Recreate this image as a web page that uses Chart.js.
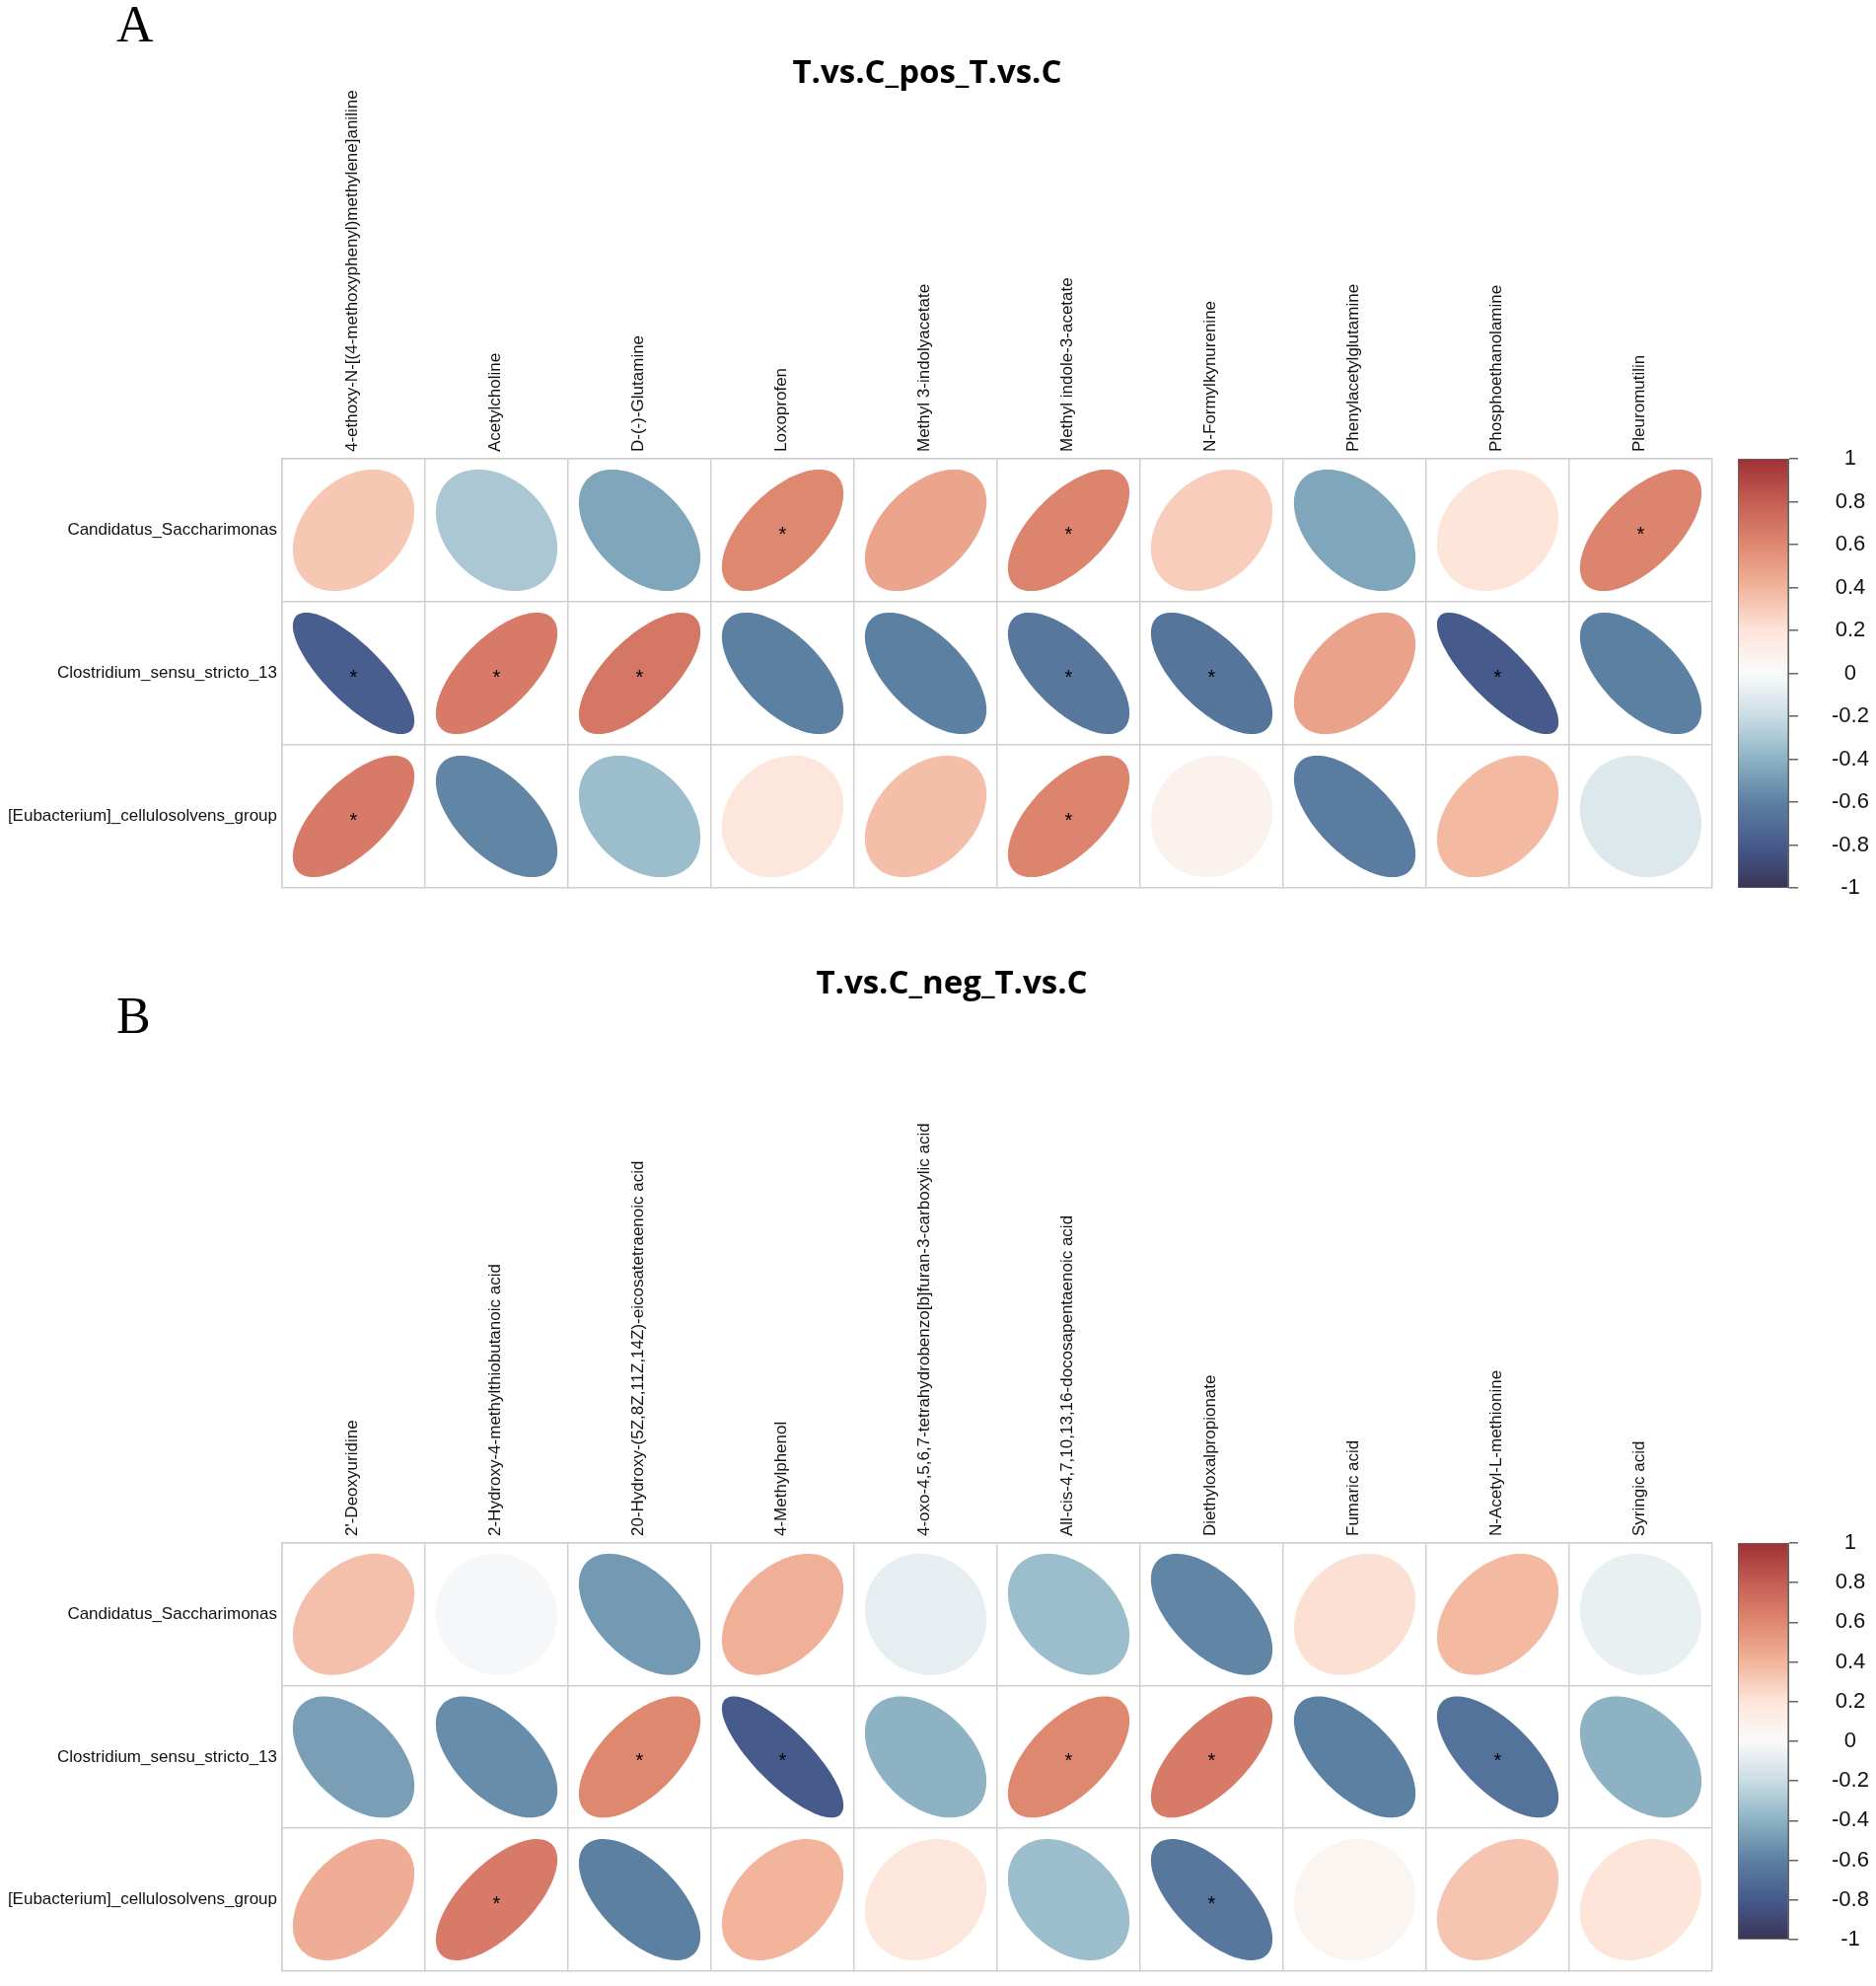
<!DOCTYPE html>
<html>
<head>
<meta charset="utf-8">
<script src="https://cdn.jsdelivr.net/npm/chart.js@4.4.1/dist/chart.umd.min.js"></script>
<style>
  body { margin: 0; background: #fff; }
  #wrap { position: relative; width: 1902px; height: 2013px; }
  canvas { position: absolute; }
</style>
</head>
<body>
<div id="wrap">
  <canvas id="posMatrix" width="1902" height="950" style="left:0;top:0"></canvas>
  <canvas id="posBar" width="162" height="950" style="left:1740px;top:0"></canvas>
  <canvas id="negMatrix" width="1902" height="1063" style="left:0;top:950px"></canvas>
  <canvas id="negBar" width="162" height="1063" style="left:1740px;top:950px"></canvas>
</div>
<script>
/* filas (taxones), comunes a los dos paneles */
const taxa = ["Candidatus_Saccharimonas", "Clostridium_sensu_stricto_13", "[Eubacterium]_cellulosolvens_group"];

/* Panel A: metabolitos modo positivo */
const posMetabolites = [
  "4-ethoxy-N-[(4-methoxyphenyl)methylene]aniline", "Acetylcholine", "D-(-)-Glutamine", "Loxoprofen",
  "Methyl 3-indolyacetate", "Methyl indole-3-acetate", "N-Formylkynurenine", "Phenylacetylglutamine",
  "Phosphoethanolamine", "Pleuromutilin"
];
const posCorr = [
  [0.32, -0.30, -0.45, 0.60, 0.47, 0.62, 0.30, -0.45, 0.20, 0.62],
  [-0.78, 0.66, 0.68, -0.60, -0.60, -0.65, -0.66, 0.48, -0.80, -0.60],
  [0.66, -0.58, -0.35, 0.18, 0.36, 0.62, 0.08, -0.62, 0.38, -0.12]
];
const posSig = [
  [0, 0, 0, 1, 0, 1, 0, 0, 0, 1],
  [1, 1, 1, 0, 0, 1, 1, 0, 1, 0],
  [1, 0, 0, 0, 0, 1, 0, 0, 0, 0]
];

/* Panel B: metabolitos modo negativo */
const negMetabolites = [
  "2'-Deoxyuridine", "2-Hydroxy-4-methylthiobutanoic acid", "20-Hydroxy-(5Z,8Z,11Z,14Z)-eicosatetraenoic acid",
  "4-Methylphenol", "4-oxo-4,5,6,7-tetrahydrobenzo[b]furan-3-carboxylic acid",
  "All-cis-4,7,10,13,16-docosapentaenoic acid", "Diethyloxalpropionate", "Fumaric acid",
  "N-Acetyl-L-methionine", "Syringic acid"
];
const negCorr = [
  [0.35, -0.02, -0.50, 0.42, -0.08, -0.35, -0.58, 0.22, 0.38, -0.07],
  [-0.48, -0.55, 0.60, -0.80, -0.40, 0.60, 0.66, -0.60, -0.67, -0.40],
  [0.43, 0.66, -0.60, 0.40, 0.18, -0.35, -0.65, 0.05, 0.33, 0.20]
];
const negSig = [
  [0, 0, 0, 0, 0, 0, 0, 0, 0, 0],
  [0, 0, 1, 1, 0, 1, 1, 0, 1, 0],
  [0, 1, 0, 0, 0, 0, 1, 0, 0, 0]
];

/* etiquetas de la barra de color */
const barTicks = [1, 0.8, 0.6, 0.4, 0.2, 0, -0.2, -0.4, -0.6, -0.8, -1];

// colores de la escala, de -1 a 1 cada 0.2
const paletteStops = [
  [58, 52, 86], [70, 90, 140], [92, 128, 162], [140, 178, 196], [202, 220, 228],
  [250, 250, 250], [253, 229, 218], [242, 180, 155], [223, 136, 112], [196, 94, 84], [158, 48, 53]
];
const gridColor = "#cfcfcf";
const labelFont = { family: "Liberation Sans", size: 17 };

function corrColor(v) {
  const pos = (v + 1) / 2 * (paletteStops.length - 1);
  const i = Math.min(Math.floor(pos), paletteStops.length - 2);
  const f = pos - i;
  const a = paletteStops[i], b = paletteStops[i + 1];
  const c = a.map((x, k) => Math.round(x + (b[k] - x) * f));
  return "rgb(" + c.join(",") + ")";
}

function cellPoints(cols, corr, sig) {
  const pts = [];
  taxa.forEach((t, i) => {
    cols.forEach((c, j) => pts.push({ x: c, y: t, v: corr[i][j], sig: sig[i][j] }));
  });
  return pts;
}

// dibuja las elipses (estilo corrplot) en la posicion de cada punto
const ellipsePlugin = {
  id: "corrEllipse",
  afterDatasetsDraw(chart) {
    const ctx = chart.ctx;
    const xs = chart.scales.x, ys = chart.scales.y;
    const cw = Math.abs(xs.getPixelForValue(1) - xs.getPixelForValue(0));
    const ch = Math.abs(ys.getPixelForValue(1) - ys.getPixelForValue(0));
    const data = chart.data.datasets[0].data;
    chart.getDatasetMeta(0).data.forEach((pt, k) => {
      const d = data[k];
      const a = Math.acos(d.v);
      ctx.save();
      ctx.beginPath();
      for (let s = 0; s <= 120; s++) {
        const t = s / 120 * 2 * Math.PI;
        const ex = Math.cos(t + a / 2) / 2 * 0.85 * cw;
        const ey = Math.cos(t - a / 2) / 2 * 0.85 * ch;
        if (s === 0) ctx.moveTo(pt.x + ex, pt.y - ey);
        else ctx.lineTo(pt.x + ex, pt.y - ey);
      }
      ctx.closePath();
      ctx.fillStyle = corrColor(d.v);
      ctx.fill();
      if (d.sig) {
        ctx.fillStyle = "#000";
        ctx.font = "20px 'Liberation Sans'";
        ctx.textAlign = "center";
        ctx.textBaseline = "alphabetic";
        const m = ctx.measureText("*");
        const off = (m.actualBoundingBoxAscent - m.actualBoundingBoxDescent) / 2;
        ctx.fillText("*", pt.x, pt.y + off);
      }
      ctx.restore();
    });
  }
};

// letra del panel y titulo
const panelTextPlugin = {
  id: "panelText",
  afterDraw(chart, args, opts) {
    const ctx = chart.ctx;
    ctx.save();
    ctx.fillStyle = "#000";
    ctx.textBaseline = "alphabetic";
    ctx.textAlign = "left";
    ctx.font = "52px 'Liberation Serif'";
    ctx.fillText(opts.letter, opts.letterX, opts.letterY);
    ctx.textAlign = "center";
    ctx.font = "bold 33px 'Open Sans'";
    ctx.fillText(opts.title, opts.titleX, opts.titleY);
    ctx.restore();
  }
};

function matrixChart(id, cols, corr, sig, panel) {
  return new Chart(document.getElementById(id), {
    type: "scatter",
    data: { datasets: [{ data: cellPoints(cols, corr, sig), pointRadius: 0, pointHoverRadius: 0 }] },
    options: {
      responsive: false,
      animation: false,
      events: [],
      layout: { padding: { left: 0, right: 166, top: 0, bottom: panel.bottom } },
      plugins: { legend: { display: false }, tooltip: { enabled: false }, panelText: panel },
      scales: {
        x: {
          type: "category", labels: cols, position: "top", offset: true,
          grid: { offset: true, drawTicks: false, color: gridColor, lineWidth: 1.5 },
          border: { color: gridColor, width: 1.5 },
          ticks: { autoSkip: false, minRotation: 90, maxRotation: 90, padding: 7, labelOffset: 19, color: "#111", font: labelFont },
          afterFit: (s) => { s.height = panel.top; }
        },
        y: {
          type: "category", labels: taxa, offset: true,
          grid: { offset: true, drawTicks: false, color: gridColor, lineWidth: 1.5 },
          border: { color: gridColor, width: 1.5 },
          ticks: { padding: 5, color: "#111", font: labelFont },
          afterFit: (s) => { s.width = 286; }
        }
      }
    },
    plugins: [ellipsePlugin, panelTextPlugin]
  });
}

function barGradient(c) {
  const chart = c.chart;
  const ys = chart.scales.y;
  if (!ys) return "#fff";
  const y0 = ys.getPixelForValue(-1), y1 = ys.getPixelForValue(1);
  if (!isFinite(y0) || !isFinite(y1) || y0 === y1) return "#fff";
  const g = chart.ctx.createLinearGradient(0, y0, 0, y1);
  paletteStops.forEach((rgb, i) => g.addColorStop(i / (paletteStops.length - 1), "rgb(" + rgb.join(",") + ")"));
  return g;
}

function colorBar(id, top, bottom) {
  const chart = new Chart(document.getElementById(id), {
    type: "bar",
    data: {
      labels: [""],
      datasets: [{
        data: [[-1, 1]], backgroundColor: barGradient, borderColor: "#666", borderWidth: 1,
        borderSkipped: false, barPercentage: 1, categoryPercentage: 1
      }]
    },
    options: {
      responsive: false,
      animation: false,
      events: [],
      layout: { padding: { left: 22, right: 0, top: top, bottom: bottom } },
      plugins: { legend: { display: false }, tooltip: { enabled: false } },
      scales: {
        x: { display: false },
        y: {
          position: "right", min: -1, max: 1,
          afterBuildTicks: (s) => { s.ticks = barTicks.map(v => ({ value: v })); },
          afterFit: (s) => { s.width = 89; },
          grid: { drawOnChartArea: false, tickLength: 10, color: "#666", lineWidth: 1.5 },
          border: { color: "#666" },
          ticks: { padding: 34, crossAlign: "center", color: "#111", font: { family: "Liberation Sans", size: 22 }, callback: (v) => String(v) }
        }
      }
    }
  });
  chart.update();
  return chart;
}

matrixChart("posMatrix", posMetabolites, posCorr, posSig,
  { top: 465, bottom: 50, letter: "A", letterX: 118, letterY: 42, title: "T.vs.C_pos_T.vs.C", titleX: 940, titleY: 84 });
colorBar("posBar", 465, 50);

matrixChart("negMatrix", negMetabolites, negCorr, negSig,
  { top: 614, bottom: 12, letter: "B", letterX: 118, letterY: 97, title: "T.vs.C_neg_T.vs.C", titleX: 965, titleY: 57 });
colorBar("negBar", 614, 12);
</script>
</body>
</html>
